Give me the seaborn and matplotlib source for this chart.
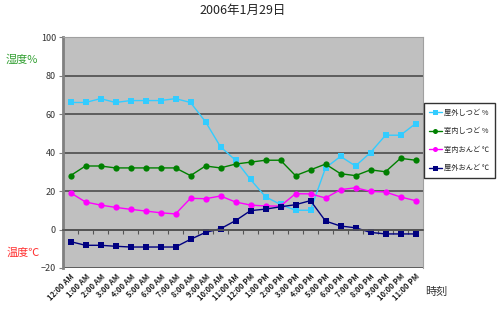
# temperature / humidity chart for 2006-01-29

import pandas as pd
import matplotlib.pyplot as plt
import seaborn as sns

# --- Data ---
hours = ["12:00 AM", "1:00 AM", "2:00 AM", "3:00 AM", "4:00 AM", "5:00 AM",
         "6:00 AM", "7:00 AM", "8:00 AM", "9:00 AM", "10:00 AM", "11:00 AM",
         "12:00 PM", "1:00 PM", "2:00 PM", "3:00 PM", "4:00 PM", "5:00 PM",
         "6:00 PM", "7:00 PM", "8:00 PM", "9:00 PM", "10:00 PM", "11:00 PM"]

outdoor_humidity = [66, 66, 68, 66, 67, 67, 67, 68, 66, 56, 43, 36,
                    26, 17, 13, 10, 10, 32, 38, 33, 40, 49, 49, 55]
indoor_humidity = [28, 33, 33, 32, 32, 32, 32, 32, 28, 33, 32, 34,
                   35, 36, 36, 28, 31, 34, 29, 28, 31, 30, 37, 36]
indoor_temp = [19.1, 14.3, 12.7, 11.5, 10.5, 9.6, 8.7, 8.1, 16.2, 16.0, 17.4, 14.3,
               12.7, 12.2, 12.2, 18.6, 18.5, 16.4, 20.7, 21.7, 19.8, 19.5, 16.9, 15.0]
outdoor_temp = [-6.3, -8.2, -8.2, -8.7, -9.1, -9.1, -9.1, -9.1, -5.1, -1.5, 0.4, 4.6,
                9.8, 10.6, 11.8, 12.9, 15.0, 4.4, 1.8, 0.9, -1.5, -2.3, -2.3, -2.3]

series_names = ["屋外しつど %", "室内しつど %", "室内おんど ℃", "屋外おんど ℃"]
series_colors = ["#33ccff", "#008000", "#ff00ff", "#000080"]
series_markers = ["s", "o", "o", "s"]

# --- Long-form table for seaborn ---
wide = pd.DataFrame({
    "pos": range(len(hours)),
    series_names[0]: outdoor_humidity,
    series_names[1]: indoor_humidity,
    series_names[2]: indoor_temp,
    series_names[3]: outdoor_temp,
})
long = wide.melt(id_vars="pos", var_name="series", value_name="value")

sns.set_theme(style="white")
plt.rcParams['font.family'] = ['Noto Sans CJK JP', 'DejaVu Sans']

fig = plt.figure(figsize=(5, 3.14), dpi=100)
ax = fig.add_axes([0.126, 0.1465, 0.72, 0.7355])
ax.set_facecolor("#c0c0c0")

sns.lineplot(data=long, x="pos", y="value", hue="series", style="series",
             hue_order=series_names, style_order=series_names,
             palette=dict(zip(series_names, series_colors)),
             markers=dict(zip(series_names, series_markers)),
             dashes=False, sort=False, linewidth=1, markersize=4.5,
             markeredgewidth=0, ax=ax)

# axes ranges and grid
ax.set_xlim(-0.5, len(hours) - 0.5)
ax.set_ylim(-20, 100)
ax.set_yticks(range(-20, 101, 20))
ax.yaxis.grid(True, color="#555555", linewidth=1.3)
ax.set_axisbelow(True)
ax.set_xlabel("")
ax.set_ylabel("")

for side in ["top", "right"]:
    ax.spines[side].set_color("#a0a0a0")
    ax.spines[side].set_linewidth(0.8)
ax.spines["left"].set_color("#808080")
ax.spines["left"].set_linewidth(2)

# category axis crosses at 0 with small ticks between categories
ax.spines["bottom"].set_position(("data", 0))
ax.spines["bottom"].set_color("#555555")
ax.spines["bottom"].set_linewidth(1.3)
ax.set_xticks([i + 0.5 for i in range(len(hours) - 1)], minor=True)
ax.set_xticks([])
ax.tick_params(axis="x", which="minor", bottom=True, length=3, width=0.8,
               color="#555555", labelbottom=False)
ax.tick_params(axis="y", left=True, length=3, width=0.8, color="#808080",
               labelsize=6.5, labelcolor="#333333", pad=2)

# tick labels at the bottom of the plot area
sec = ax.secondary_xaxis("bottom")
sec.set_xticks(range(len(hours)), hours)
sec.tick_params(length=0, labelsize=5.5, labelcolor="#222222", pad=3)
sec.spines["bottom"].set_visible(False)
for lbl in sec.get_xticklabels():
    lbl.set_rotation(45)
    lbl.set_ha("right")
    lbl.set_va("top")
    lbl.set_rotation_mode("anchor")
    lbl.set_fontweight("bold")

# legend
handles, labels = ax.get_legend_handles_labels()
ax.get_legend().remove()
fig.legend(handles, labels, loc="upper left", bbox_to_anchor=(0.847, 0.672),
           borderaxespad=0, frameon=True, fancybox=False, edgecolor="#333333",
           framealpha=1, fontsize=5.2, handlelength=1.7, handletextpad=0.3,
           borderpad=0.8, labelspacing=1.45, markerscale=0.8)

# texts
fig.text(0.486, 0.966, "2006年1月29日", ha="center", va="center", fontsize=9, color="#222222")
fig.text(0.044, 0.809, "湿度%", ha="center", va="center", fontsize=8, color="#33a033")
fig.text(0.046, 0.194, "温度℃", ha="center", va="center", fontsize=8, color="#ff3333")
fig.text(0.872, 0.07, "時刻", ha="center", va="center", fontsize=8, color="#333333")

fig.savefig("out.png", dpi=100)
plt.close()
